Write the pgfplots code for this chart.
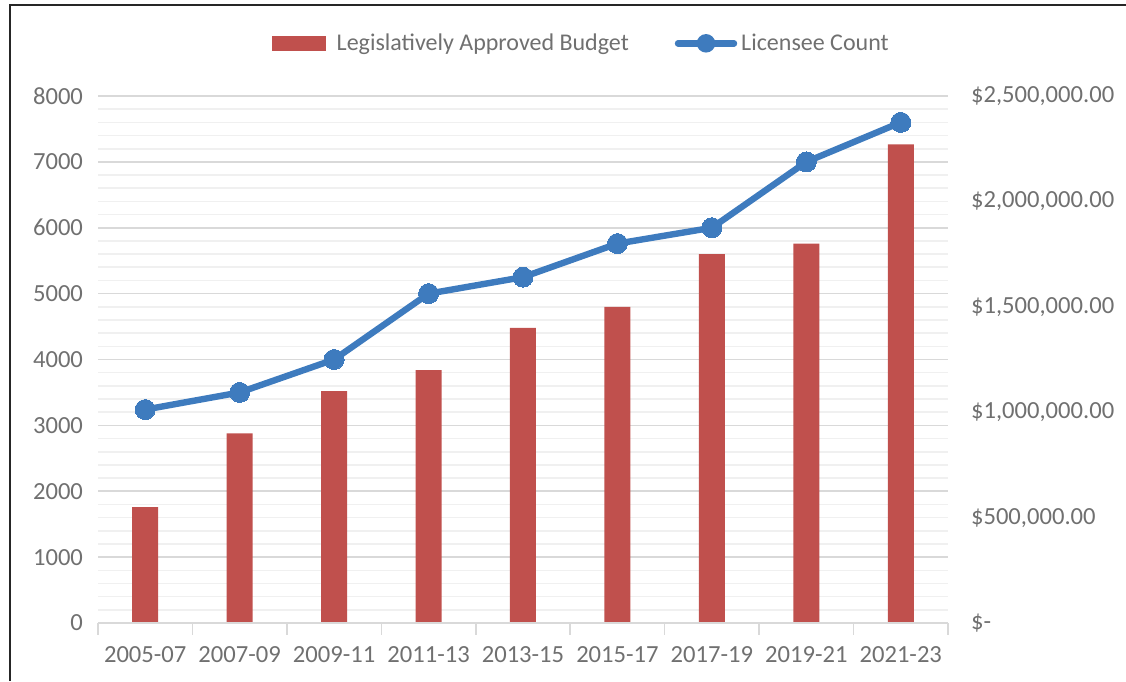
\documentclass[border=0pt]{standalone}
\usepackage{pgfplots}
\pgfplotsset{compat=1.18}
\usepackage{fontspec}
\setmainfont{Carlito}
\definecolor{txt}{RGB}{112,112,112}
\definecolor{barred}{RGB}{192,80,77}
\definecolor{lineblue}{RGB}{62,123,190}
\definecolor{majgrid}{RGB}{217,217,217}
\definecolor{mingrid}{RGB}{240,240,240}
\begin{document}
\begin{tikzpicture}
\path[use as bounding box] (0,0) rectangle (563pt,340.5pt);
\draw[black!85, line width=1pt] (5pt,0) -- (5pt,338pt) -- (563pt,338pt);
\pgfplotsset{
  base/.style={
    at={(49pt,29pt)}, anchor=south west,
    scale only axis, width=425pt, height=263.5pt,
    xmin=-0.5, xmax=8.5,
    /pgf/number format/assume math mode=true,
    tick label style={font=\fontsize{12.3}{14}\selectfont, text=txt},
    tick style={draw=none},
  }
}
% grid + left axis
\begin{axis}[base,
  ymin=0, ymax=8000,
  ytick={0,1000,...,8000},
  minor ytick={200,400,...,7800},
  yticklabel style={/pgf/number format/fixed, /pgf/number format/1000 sep={}},
  ymajorgrids, yminorgrids,
  major grid style={draw=majgrid, line width=0.8pt},
  minor grid style={draw=mingrid, line width=0.8pt},
  axis line style={draw=none},
  xtick=\empty,
  yticklabel style={xshift=-4pt},
]
\addplot[draw=none] coordinates {(0,0)};
\end{axis}
% right axis with bars
\begin{axis}[base,
  ymin=0, ymax=2500000,
  axis y line*=right,
  axis x line=none,
  y axis line style={draw=none},
  ytick={0,500000,1000000,1500000,2000000,2500000},
  yticklabels={{\$-},{\$500,000.00},{\$1,000,000.00},{\$1,500,000.00},{\$2,000,000.00},{\$2,500,000.00}},
  yticklabel style={anchor=west, xshift=8pt},
  scaled y ticks=false,
]
\addplot[ybar, bar width=13pt, fill=barred, draw=none] coordinates {
(0,550000) (1,900000) (2,1100000) (3,1200000) (4,1400000) (5,1500000) (6,1750000) (7,1800000) (8,2270000)};
\end{axis}
% line axis with x labels and legend
\begin{axis}[base,
  ymin=0, ymax=8000,
  axis y line=none,
  axis x line*=bottom,
  x axis line style={draw=majgrid, line width=0.8pt, -},
  xtick={0,...,8},
  xticklabels={2005-07,2007-09,2009-11,2011-13,2013-15,2015-17,2017-19,2019-21,2021-23},
  xticklabel style={yshift=-8pt},
  extra x ticks={-0.5,0.5,...,8.5},
  extra x tick labels={},
  extra x tick style={tick style={draw=majgrid, line width=0.8pt}, major tick length=6pt, tick align=outside},
  legend style={at={(0.570,1.10)}, anchor=center, draw=none, fill=none,
    font=\fontsize{12}{14}\selectfont, text=txt, legend columns=2,
    /tikz/every even column/.append style={column sep=21pt}},
  legend cell align=left,
]
\addlegendimage{barred, legend image code/.code={\path[draw=none,fill=none] (0pt,-1pt) rectangle (30pt,1pt); \fill[barred] (0pt,-3.3pt) rectangle (26.5pt,3.3pt);}}
\addlegendentry{Legislatively Approved Budget}
\addplot[lineblue, line width=3.2pt, mark=*, mark size=5pt, mark options={fill=lineblue, draw=lineblue, line width=0pt},
  legend image code/.code={\draw[lineblue, line width=3.2pt, line cap=round] (0pt,0pt) -- (28pt,0pt); \fill[lineblue] (14pt,0pt) circle (3pt);}]
coordinates {(0,3240) (1,3500) (2,4000) (3,5000) (4,5250) (5,5760) (6,6000) (7,7000) (8,7600)};
\addlegendentry{Licensee Count}
\end{axis}
\end{tikzpicture}
\end{document}
